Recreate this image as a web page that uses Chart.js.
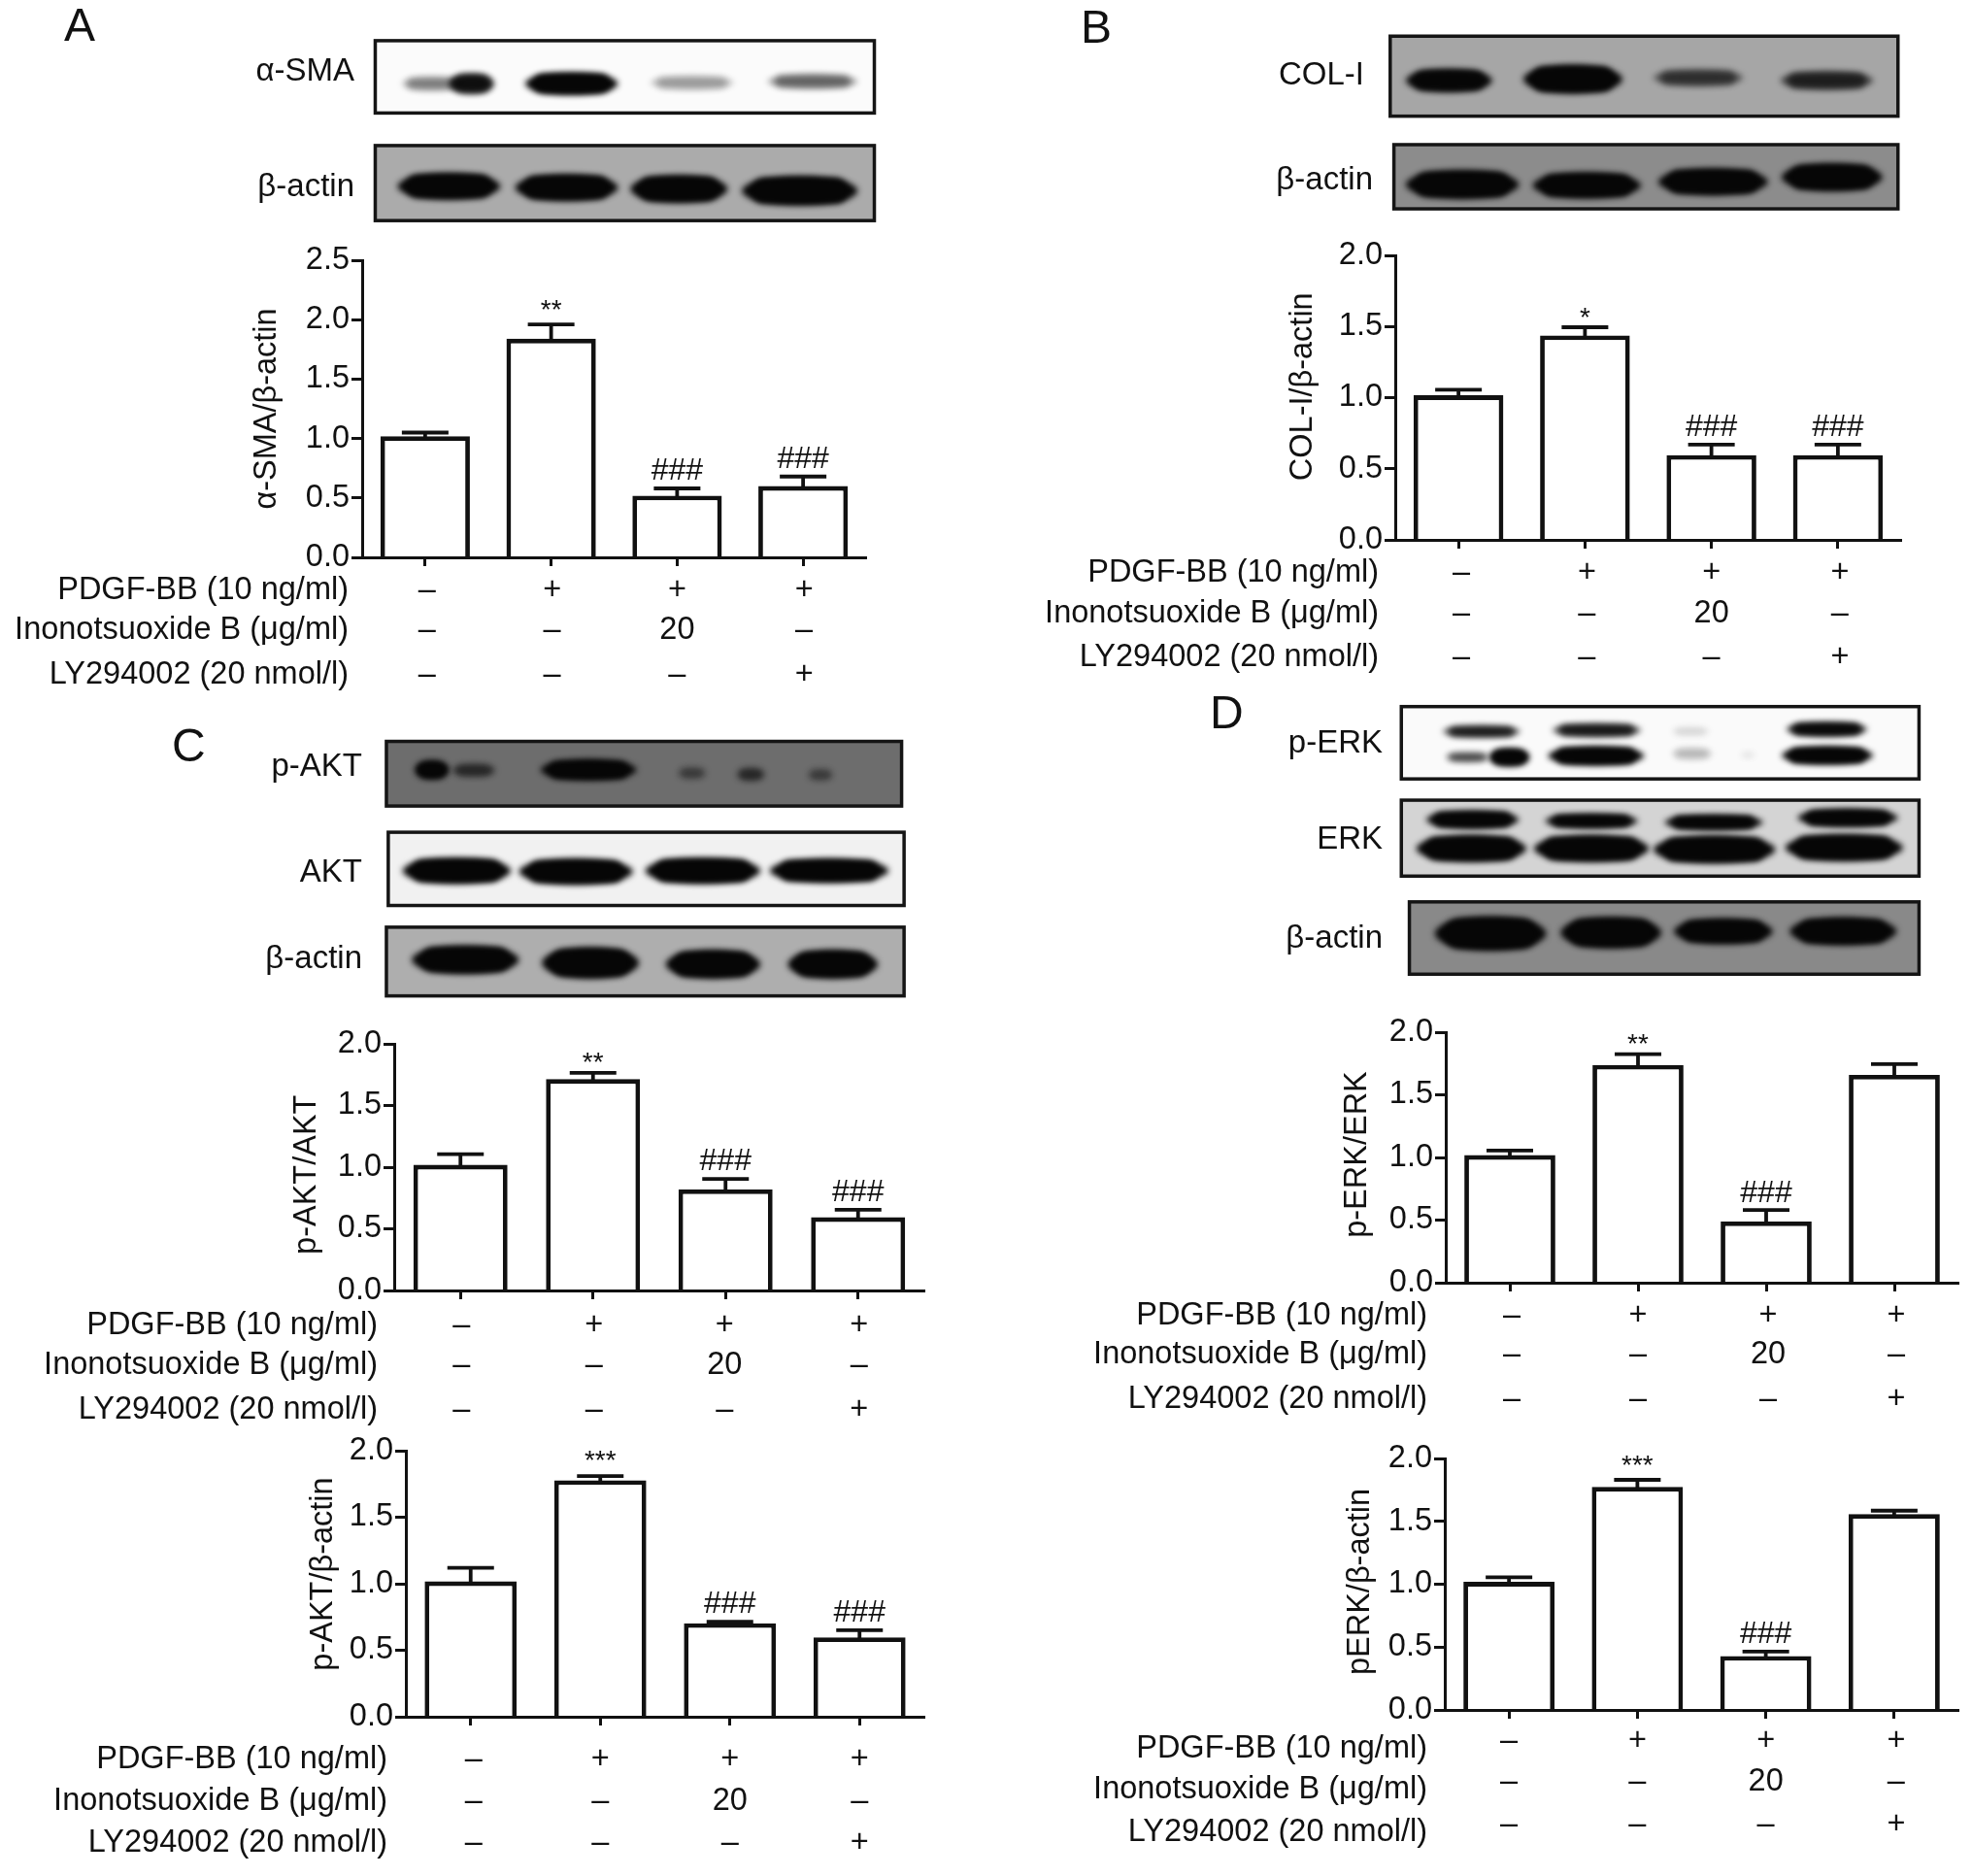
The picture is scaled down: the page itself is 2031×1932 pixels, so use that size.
<!DOCTYPE html>
<html><head><meta charset="utf-8">
<script src="https://cdn.jsdelivr.net/npm/chart.js@4"></script>
<style>
html,body{margin:0;padding:0;background:#fff}
body{position:relative;width:2031px;height:1932px;overflow:hidden}
canvas{position:absolute;filter:blur(0.6px)}
</style></head><body>
<canvas id="blots" width="2031" height="1932" style="left:0;top:0"></canvas>
<script>
// ---- chart values ----
const categories=['Control','PDGF-BB','PDGF-BB + Inonotsuoxide B','PDGF-BB + LY294002'];
const pdgfRow=['–','+','+','+'];
const inoRow=['–','–','20','–'];
const lyRow=['–','–','–','+'];
const rowNames=['PDGF-BB (10 ng/ml)','Inonotsuoxide B (μg/ml)','LY294002 (20 nmol/l)'];

const smaValues=[1.0,1.82,0.5,0.58];
const smaUpper=[1.05,1.96,0.58,0.68];
const smaMarks=['','**','###','###'];

const colValues=[1.0,1.42,0.58,0.58];
const colUpper=[1.055,1.495,0.67,0.67];
const colMarks=['','*','###','###'];

const paktValues=[1.0,1.695,0.8,0.575];
const paktUpper=[1.105,1.765,0.905,0.655];
const paktMarks=['','**','###','###'];

const paktActinValues=[1.0,1.76,0.685,0.58];
const paktActinUpper=[1.12,1.81,0.715,0.65];
const paktActinMarks=['','***','###','###'];

const perkValues=[1.0,1.72,0.47,1.64];
const perkUpper=[1.055,1.825,0.58,1.745];
const perkMarks=['','**','###',''];

const perkActinValues=[1.0,1.755,0.41,1.54];
const perkActinUpper=[1.055,1.83,0.465,1.585];
const perkActinMarks=['','***','###',''];

// ---- layout ----
const INK='#111', FONT='"Liberation Sans", Arial, sans-serif';
const PAD={l:373,t:24,r:12,b:150};
const panels=[
 {title:'α-SMA/β-actin',v:smaValues,u:smaUpper,m:smaMarks,max:2.5,x0:373,x1:892,yTop:268,yZero:574,titleX:275,titleY:421,rows:[608,649,695],rowRight:359,rowX:[2,1,0,1],starUp:5,labelDy:0},
 {title:'COL-I/β-actin',v:colValues,u:colUpper,m:colMarks,max:2.0,x0:1437,x1:1958,yTop:263,yZero:555.5,titleX:1342,titleY:398,rows:[590,632,677],rowRight:1420,rowX:[3,2,0,2],starUp:0,labelDy:0},
 {title:'p-AKT/AKT',v:paktValues,u:paktUpper,m:paktMarks,max:2.0,x0:406,x1:951.5,yTop:1074.5,yZero:1328,titleX:316,titleY:1209,rows:[1365,1406,1452],rowRight:389,rowX:[1,1,-1,1],starUp:1,labelDy:0},
 {title:'p-AKT/β-actin',v:paktActinValues,u:paktActinUpper,m:paktActinMarks,max:2.0,x0:418,x1:951.5,yTop:1494,yZero:1768,titleX:333,titleY:1621,rows:[1812,1855,1898],rowRight:399,rowX:[3,0,0,0],starUp:6,labelDy:0},
 {title:'p-ERK/ERK',v:perkValues,u:perkUpper,m:perkMarks,max:2.0,x0:1489,x1:2017,yTop:1063,yZero:1321,titleX:1398,titleY:1189,rows:[1355,1395,1441],rowRight:1470,rowX:[2,0,2,2],starUp:0,labelDy:0},
 {title:'pERK/β-actin',v:perkActinValues,u:perkActinUpper,m:perkActinMarks,max:2.0,x0:1488,x1:2017,yTop:1502,yZero:1761,titleX:1401,titleY:1629,rows:[1793,1835,1879],rowRight:1470,rowX:[0,0,0,2],starUp:5,labelDy:8}
];

// ---- blots: positions from the picture (sx, sy = crop scale) ----
const blotSets=[
 {ox:0,oy:0,boxes:[
  {b:[606,90,1412,250],bg:'#fbfbfb',line:'α-SMA',right:365,ly:74,bands:[[650,745,185,30,.3],[725,798,185,44,.82],[848,998,185,48,1],[1050,1185,183,30,.22],[1240,1385,180,32,.38]]},
  {b:[606,322,1412,488],bg:'#ababab',line:'β-actin',right:365,ly:193,bands:[[642,808,412,58,1],[832,998,415,58,1],[1018,1175,418,60,1],[1198,1385,422,64,1]]}]},
 {ox:1030,oy:0,boxes:[
  {b:[630,80,1450,257],bg:'#a6a6a6',line:'COL-I',right:1405,ly:78,bands:[[655,795,178,50,.97],[845,1005,175,62,1],[1055,1200,172,36,.5],[1260,1410,178,40,.62]]},
  {b:[636,320,1450,462],bg:'#8c8c8c',line:'β-actin',right:1414,ly:186,bands:[[655,838,408,62,1],[860,1035,410,56,1],[1063,1240,402,58,1],[1262,1425,392,60,1]]}]},
 {ox:0,oy:730,boxes:[
  {b:[624,72,1456,215],bg:'#6d6d6d',line:'p-AKT',right:373,ly:790,bands:[[670,725,135,40,1],[730,800,136,28,.45],[873,1028,135,45,1],[1095,1140,142,25,.3],[1190,1235,145,28,.45],[1305,1345,146,25,.3]]},
  {b:[627,273,1460,435],bg:'#f1f1f1',line:'AKT',right:373,ly:899,bands:[[650,825,358,56,1],[838,1022,360,56,1],[1042,1228,358,56,1],[1243,1435,358,52,1]]},
  {b:[624,483,1460,635],bg:'#aeaeae',line:'β-actin',right:373,ly:988,bands:[[665,838,555,62,1],[875,1032,562,68,1],[1075,1228,565,62,1],[1272,1418,565,62,1]]}]},
 {ox:1030,oy:710,boxes:[
  {b:[648,38,1484,198],bg:'#fafafa',line:'p-ERK',right:1424,ly:766,bands:[[715,840,93,25,.72],[892,1035,90,28,.75],[1085,1145,93,18,.08],[1270,1400,88,30,.9],[720,790,150,20,.5],[790,855,150,38,1],[885,1040,147,40,1],[1085,1150,142,25,.15],[1195,1220,145,12,.05],[1262,1410,146,38,1]]},
  {b:[648,245,1484,413],bg:'#d4d4d4',line:'ERK',right:1424,ly:865,bands:[[688,838,288,38,1],[880,1030,291,30,1],[1073,1232,294,32,1],[1288,1450,284,38,1],[672,850,352,58,1],[862,1048,352,58,1],[1055,1252,354,60,1],[1268,1458,350,58,1]]},
  {b:[661,470,1484,630],bg:'#898989',line:'β-actin',right:1424,ly:967,bands:[[702,882,540,75,1],[905,1068,538,68,1],[1088,1248,535,55,1],[1275,1448,535,60,1]]}]}
];
const panelLetters=[['A',66,29],['B',1113,31],['C',177,771],['D',1246,737]];

const bctx=document.getElementById('blots').getContext('2d');
const SX=1.568,SY=2.148;
function drawBlots(){
  bctx.textBaseline='middle';
  blotSets.forEach(set=>{
    const px=x=>set.ox+x/SX, py=y=>set.oy+y/SY;
    set.boxes.forEach(box=>{
      const [a,b,c,d]=box.b, X=px(a),Y=py(b),W=px(c)-X,H=py(d)-Y;
      bctx.save();
      bctx.beginPath();bctx.rect(X,Y,W,H);bctx.clip();
      bctx.fillStyle=box.bg;bctx.fillRect(X,Y,W,H);
      bctx.filter='blur(3px)';
      box.bands.forEach(([x1,x2,yc,h,k])=>{
        const bx=px(x1),bw=px(x2)-bx,bh=h/SY,by=py(yc)-bh/2;
        bctx.fillStyle='rgba(6,6,6,'+k+')';
        bctx.beginPath();
        bctx.ellipse(bx+bw/2,by+bh/2,bw/2,bh/2,0,0,Math.PI*2);
        bctx.fill();
        bctx.beginPath();
        bctx.roundRect(bx+bw*.08,by+bh*.06,bw*.84,bh*.88,bh*.44);
        bctx.fill();
      });
      bctx.restore();
      bctx.strokeStyle='#151515';bctx.lineWidth=3.5;bctx.strokeRect(X,Y,W,H);
      bctx.fillStyle=INK;bctx.textAlign='right';bctx.font='33px '+FONT;
      bctx.fillText(box.line,box.right,box.ly);
    });
  });
  bctx.textAlign='left';bctx.font='48px '+FONT;bctx.fillStyle=INK;
  panelLetters.forEach(([t,x,y])=>bctx.fillText(t,x,y));
}
drawBlots();

// ---- error bars, significance marks, treatment table ----
const STROKE=4.8;
const decorate={
  id:'decorate',
  beforeDatasetsDraw(chart,args,o){
    const xs=chart.scales.x,ys=chart.scales.y,ctx=chart.ctx;
    ctx.save();ctx.strokeStyle=INK;ctx.lineWidth=3.8;
    o.p.v.forEach((v,i)=>{
      const x=xs.getPixelForValue(i),y0=ys.getPixelForValue(v),y1=ys.getPixelForValue(o.p.u[i]);
      ctx.beginPath();ctx.moveTo(x,y0);ctx.lineTo(x,y1);ctx.moveTo(x-24,y1);ctx.lineTo(x+24,y1);ctx.stroke();
    });
    ctx.restore();
  },
  // the outlines in the reference are centred on the value; Chart.js insets them
  beforeDatasetDraw(chart){chart.ctx.save();chart.ctx.translate(0,-STROKE/2);},
  afterDatasetDraw(chart){chart.ctx.restore();},
  afterDraw(chart,args,o){
    const xs=chart.scales.x,ys=chart.scales.y,ctx=chart.ctx,p=o.p,top=o.top;
    ctx.save();ctx.fillStyle=INK;ctx.textBaseline='middle';ctx.textAlign='center';
    p.m.forEach((t,i)=>{
      if(!t)return;
      const x=xs.getPixelForValue(i),y=ys.getPixelForValue(p.u[i]);
      if(t[0]==='*'){ctx.font='28px '+FONT;ctx.fillText(t,x,y-9-p.starUp);}
      else{ctx.font='32px '+FONT;ctx.fillText(t,x,y-17.5);}
    });
    ctx.font='32.5px '+FONT;
    [pdgfRow,inoRow,lyRow].forEach((row,r)=>{
      const y=p.rows[r]-top;
      ctx.textAlign='right';ctx.fillText(rowNames[r],p.rowRight-o.left,y+p.labelDy);
      ctx.textAlign='center';
      row.forEach((t,i)=>ctx.fillText(t,xs.getPixelForValue(i)+p.rowX[i],y));
    });
    ctx.restore();
  }
};

panels.forEach((p,n)=>{
  const left=p.x0-PAD.l, top=p.yTop-PAD.t;
  const w=(p.x1-p.x0)+PAD.l+PAD.r, h=(p.yZero-p.yTop)+PAD.t+PAD.b;
  const c=document.createElement('canvas');
  c.width=Math.round(w);c.height=Math.round(h);
  c.style.left=left+'px';c.style.top=top+'px';
  document.body.appendChild(c);
  const titleLH=32.5*1.2;
  new Chart(c,{
    type:'bar',
    data:{labels:categories,datasets:[{data:p.v,base:-0.03,clip:8,backgroundColor:'#fff',borderColor:INK,borderWidth:STROKE,categoryPercentage:1,barPercentage:.71}]},
    plugins:[decorate],
    options:{
      responsive:false,animation:false,
      layout:{padding:{top:PAD.t,right:PAD.r,left:0,bottom:0}},
      plugins:{legend:{display:false},tooltip:{enabled:false},decorate:{p,top,left}},
      scales:{
        x:{
          grid:{display:true,drawOnChartArea:false,drawTicks:true,tickLength:9,tickWidth:3,tickColor:INK,offset:false},
          border:{display:true,color:INK,width:3,z:2},
          ticks:{display:false},
          afterFit(s){s.height=PAD.b;}
        },
        y:{
          min:0,max:p.max,
          grid:{display:true,drawOnChartArea:false,drawTicks:true,tickLength:11,tickWidth:3,tickColor:INK},
          border:{display:true,color:INK,width:3},
          ticks:{stepSize:.5,padding:2,color:INK,font:{size:32.5,family:FONT},callback:v=>v.toFixed(1)},
          title:{display:true,text:p.title,color:INK,font:{size:32.5,family:FONT},padding:{top:p.titleX-left-titleLH/2,bottom:0}},
          afterFit(s){
            s.width=PAD.l;
            if(!s._titlePatched){
              const orig=s.drawTitle,dy=p.titleY-(p.yTop+p.yZero)/2;
              s.drawTitle=function(){const ctx=this.ctx;ctx.save();ctx.translate(0,dy);orig.call(this);ctx.restore();};
              s._titlePatched=true;
            }
          }
        }
      }
    }
  });
});
</script>
</body></html>
